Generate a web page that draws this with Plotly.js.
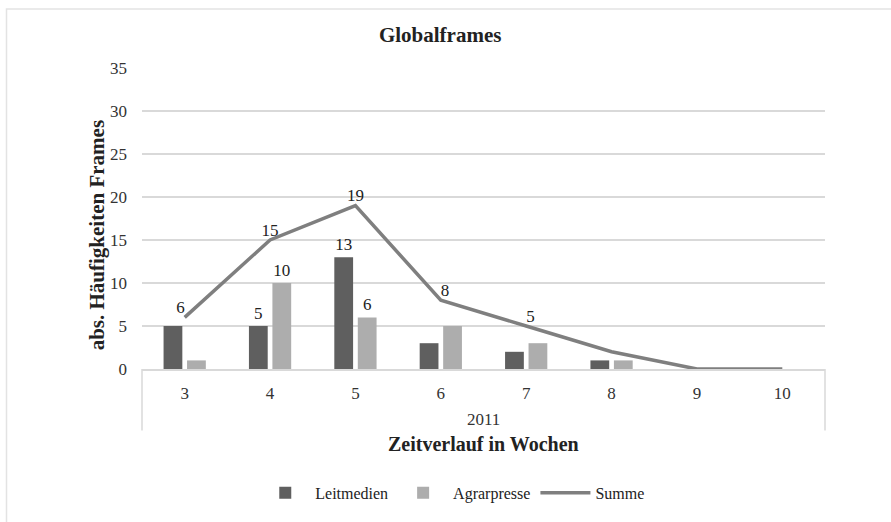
<!DOCTYPE html>
<html>
<head>
<meta charset="utf-8">
<script src="https://cdn.plot.ly/plotly-3.0.1.min.js"></script>
<style>html,body{margin:0;padding:0;background:#fff;}#chart{width:891px;height:522px;}</style>
</head>
<body>
<div id="chart"></div>
<script>
const weeks = ['3','4','5','6','7','8','9','10'];
const yearLabel = ['2011'];
const leitmedien = [5, 5, 13, 3, 2, 1, 0, 0];
const agrarpresse = [1, 10, 6, 5, 3, 1, 0, 0];
const summe = [6, 15, 19, 8, 5, 2, 0, 0];
const leitLabels = ['', '5', '13', '', '', '', '', ''];
const agrarLabels = ['', '10', '6', '', '', '', '', ''];
const summeLabels = ['6', '15', '19', '8', '5', '', '', ''];

const font = 'Liberation Serif, Times New Roman, serif';
const PL = 142, PR = 825, PT = 68, PB = 372, W = 891, H = 522;
const py = v => (PB - v) / (PB - PT);   // pixel y -> paper y
const px = v => (v - PL) / (PR - PL);   // pixel x -> paper x

const traces = [
  {type:'bar', name:'Leitmedien', x:weeks, y:leitmedien, marker:{color:'#5f5f5f'},
   text:leitLabels, textposition:'outside', cliponaxis:false, textfont:{family:font,size:17,color:'#222'}},
  {type:'bar', name:'Agrarpresse', x:weeks, y:agrarpresse, marker:{color:'#adadad'},
   text:agrarLabels, textposition:'outside', cliponaxis:false, textfont:{family:font,size:17,color:'#222'}},
  {type:'scatter', mode:'lines+text', name:'Summe', x:weeks, y:summe, line:{color:'#7f7f7f', width:3.5},
   text:summeLabels, textposition:['top left','top center','top center','top right','top right','top center','top center','top center'],
   cliponaxis:false, textfont:{family:font,size:17,color:'#222'}}
];

const layout = {
  width:W, height:H,
  margin:{l:PL, r:W-PR, t:PT, b:H-PB},
  paper_bgcolor:'#fff', plot_bgcolor:'#fff',
  font:{family:font, size:16, color:'#333'},
  title:{text:'<b>Globalframes</b>', x:0.494, xanchor:'center', y:0.933, yanchor:'middle', font:{family:font,size:21,color:'#222'}},
  barmode:'group', bargap:0.45, bargroupgap:0.2,
  showlegend:true,
  legend:{orientation:'h', x:0.455, xanchor:'center', y:py(497), yanchor:'middle', font:{family:font,size:16,color:'#222'}, itemwidth:50, traceorder:'normal'},
  xaxis:{type:'category', showline:true, linecolor:'#d9d9d9', linewidth:1.5, showgrid:false,
         ticklabelstandoff:8, tickfont:{family:font,size:17,color:'#333'}, fixedrange:true},
  yaxis:{range:[0,35], dtick:5, showgrid:true, gridcolor:'#d9d9d9', gridwidth:1.2, zeroline:false, fixedrange:true,
         ticklabelstandoff:14, tickfont:{family:font,size:17,color:'#333'}},
  annotations:[
    {xref:'paper', yref:'paper', x:0.5, y:py(423), text:yearLabel[0], showarrow:false, xanchor:'center', yanchor:'middle', font:{family:font,size:17,color:'#333'}},
    {xref:'paper', yref:'paper', x:px(483), y:py(448), text:'<b>Zeitverlauf in Wochen</b>', showarrow:false, xanchor:'center', yanchor:'middle', font:{family:font,size:20,color:'#222'}},
    {xref:'paper', yref:'paper', x:px(97), y:py(237), text:'<b>abs. Häufigkeiten Frames</b>', textangle:-90, showarrow:false, xanchor:'center', yanchor:'middle', font:{family:font,size:21,color:'#222'}}
  ],
  shapes:[
    {type:'line', xref:'paper', yref:'paper', x0:0, x1:0, y0:0, y1:py(434), line:{color:'#d9d9d9', width:1.5}},
    {type:'line', xref:'paper', yref:'paper', x0:1, x1:1, y0:0, y1:py(434), line:{color:'#d9d9d9', width:1.5}},
    {type:'rect', xref:'paper', yref:'paper', x0:px(6.5), x1:px(1000), y0:py(700), y1:py(8.5), line:{color:'#e3e3e3', width:1.5}, fillcolor:'rgba(0,0,0,0)', layer:'below'}
  ]
};

Plotly.newPlot('chart', traces, layout, {displayModeBar:false, staticPlot:true});
</script>
</body>
</html>
